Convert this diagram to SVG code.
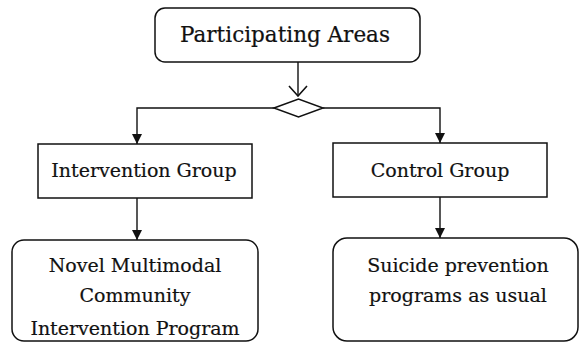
<svg xmlns="http://www.w3.org/2000/svg" width="580" height="344" viewBox="0 0 580 344">
<style>
.box{fill:#fff;stroke:#111;stroke-width:1.5}
.ln{fill:none;stroke:#111;stroke-width:1.4}
text{font-family:"DejaVu Serif","Liberation Serif",serif;font-size:19px;fill:#111;text-anchor:middle;stroke:#111;stroke-width:0.2}
.big{font-size:21.5px}
</style>
<defs>
<marker id="tri" viewBox="0 0 10 10" refX="10" refY="5" markerWidth="10" markerHeight="10" markerUnits="userSpaceOnUse" orient="auto">
<path d="M0,0 L10,5 L0,10 Z" fill="#111"/>
</marker>
<marker id="vee" viewBox="0 0 12 20" refX="11" refY="10" markerWidth="12" markerHeight="20" markerUnits="userSpaceOnUse" orient="auto">
<path d="M1,1 L11,10 L1,19" fill="none" stroke="#111" stroke-width="1.6"/>
</marker>
</defs>
<g id="connectors">
<line class="ln" x1="298" y1="62" x2="298" y2="96" marker-end="url(#vee)"/>
<path class="ln" d="M274,108 H137 V144" marker-end="url(#tri)"/>
<path class="ln" d="M323,108 H440 V143" marker-end="url(#tri)"/>
<line class="ln" x1="137" y1="198" x2="137" y2="240" marker-end="url(#tri)"/>
<line class="ln" x1="440" y1="197" x2="440" y2="238" marker-end="url(#tri)"/>
</g>
<g id="participating">
<rect class="box" x="155" y="8" width="265" height="54" rx="10"/>
<text class="big" x="285" y="42">Participating Areas</text>
</g>
<g id="split">
<polygon class="box" points="274,108 298.5,99 323,108 298.5,117"/>
</g>
<g id="intervention">
<rect class="box" x="38" y="144" width="214" height="54"/>
<text x="144" y="177">Intervention Group</text>
</g>
<g id="control">
<rect class="box" x="333" y="143" width="214" height="54"/>
<text x="440" y="177">Control Group</text>
</g>
<g id="novel">
<rect class="box" x="12" y="240" width="246" height="101" rx="12"/>
<text x="135" y="272">Novel Multimodal</text>
<text x="135" y="302">Community</text>
<text x="135" y="335">Intervention Program</text>
</g>
<g id="usual">
<rect class="box" x="333" y="238" width="245" height="103" rx="14"/>
<text x="458" y="272">Suicide prevention</text>
<text x="458" y="302">programs as usual</text>
</g>
</svg>
